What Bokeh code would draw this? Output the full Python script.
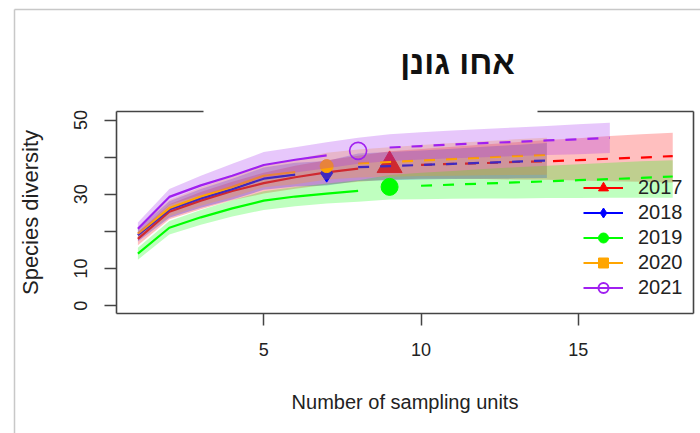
from bokeh.plotting import figure
from bokeh.models import Range1d, Legend, LegendItem, FixedTicker
from bokeh.core.properties import value
from bokeh.embed import file_html
from bokeh.resources import INLINE

# ---------------- data ----------------
years = ["2017", "2018", "2019", "2020", "2021"]
colors = ["#FF0000", "#0000FF", "#00FF00", "#FFA500", "#A020F0"]
ref_size = [9, 7, 9, 7, 8]          # observed number of sampling units

div_2017 = [18.0, 25.3, 28.3, 30.9, 33.0, 34.6, 35.9, 36.9, 37.8, 37.9, 38.2, 38.4, 38.7, 38.9, 39.2, 39.6, 39.9, 40.3]
lo_2017 = [16.3, 23.3, 26.0, 28.4, 30.2, 31.5, 32.6, 33.4, 34.0, 34.2, 34.2, 34.1, 34.0, 33.9, 33.7, 33.5, 33.4, 33.2]
hi_2017 = [19.7, 27.3, 30.6, 33.4, 35.8, 37.7, 39.2, 40.4, 41.6, 42.2, 42.8, 43.4, 44.0, 44.6, 45.1, 45.7, 46.2, 46.6]

div_2018 = [19.0, 25.9, 28.9, 31.4, 34.2, 35.3, 35.7, 37.3, 37.6, 37.9, 38.2, 38.5, 38.8, 39.1]
lo_2018 = [17.3, 23.7, 26.4, 28.6, 31.2, 32.1, 32.4, 33.6, 33.8, 34.0, 34.1, 34.2, 34.3, 34.4]
hi_2018 = [20.7, 28.1, 31.4, 34.2, 37.2, 38.5, 39.0, 41.0, 41.4, 41.8, 42.3, 42.8, 43.3, 43.8]

div_2019 = [14.0, 21.0, 23.8, 26.2, 28.3, 29.4, 30.2, 30.9, 32.0, 32.3, 32.6, 32.9, 33.2, 33.5, 33.8, 34.1, 34.4, 34.8]
lo_2019 = [12.4, 19.2, 21.8, 24.0, 25.8, 26.8, 27.5, 28.0, 28.6, 28.7, 28.8, 28.9, 28.9, 29.0, 29.0, 29.1, 29.1, 29.1]
hi_2019 = [15.6, 22.8, 25.8, 28.4, 30.8, 32.0, 32.9, 33.8, 35.2, 35.8, 36.3, 36.8, 37.3, 37.7, 38.1, 38.5, 38.9, 39.2]

div_2020 = [19.4, 26.3, 29.4, 32.0, 35.0, 36.0, 37.6, 38.3, 38.7, 39.1, 39.5, 39.9, 40.3, 40.6]
lo_2020 = [17.7, 24.1, 26.9, 29.2, 31.9, 32.7, 34.0, 34.5, 34.7, 34.9, 35.0, 35.1, 35.2, 35.3]
hi_2020 = [21.1, 28.5, 31.9, 34.8, 38.1, 39.3, 41.2, 42.1, 42.7, 43.3, 43.8, 44.3, 44.8, 45.2]

div_2021 = [20.7, 29.3, 32.4, 35.0, 37.9, 39.3, 40.5, 41.7, 42.6, 43.0, 43.4, 43.8, 44.1, 44.5, 44.8, 45.2]
lo_2021 = [19.0, 27.2, 29.8, 31.8, 34.4, 35.9, 37.0, 38.2, 39.0, 39.4, 39.7, 40.0, 40.3, 40.6, 40.8, 41.1]
hi_2021 = [22.4, 31.4, 35.0, 38.2, 41.4, 42.7, 44.0, 45.2, 46.2, 46.7, 47.2, 47.6, 48.0, 48.4, 48.9, 49.3]

x_ticks = [5, 10, 15]
y_ticks = [0, 10, 20, 30, 40, 50]
y_hidden_labels = [20, 40]
title_text = "אחו גונן"
x_label = "Number of sampling units"
y_label = "Species diversity"

plot_markers = ["triangle", "diamond", "circle", "circle", "circle"]
plot_sizes = [25, 18, 17, 13, 17]
plot_filled = [True, True, True, True, False]
legend_markers = ["triangle", "diamond", "circle", "square", "circle"]
legend_filled = [True, True, True, True, False]

series = [
    (div_2017, lo_2017, hi_2017),
    (div_2018, lo_2018, hi_2018),
    (div_2019, lo_2019, hi_2019),
    (div_2020, lo_2020, hi_2020),
    (div_2021, lo_2021, hi_2021),
]

# ---------------- layout ----------------
W, H = 700, 433
FL, FR, FT, FB = 116, 693, 111, 313      # frame edges in page pixels
X0, X1 = 0.32, 18.66
Y0, Y1 = -2.1, 52.3
FONT = "Liberation Sans"
TXT = "#222222"
AX = "#444444"


def px2x(px):
    return X0 + (px - FL) / (FR - FL) * (X1 - X0)


def py2y(py):
    return Y0 + (FB - py) / (FB - FT) * (Y1 - Y0)


p = figure(width=W, height=H, output_backend="svg", toolbar_location=None,
           x_range=Range1d(X0, X1), y_range=Range1d(Y0, Y1),
           min_border_left=FL, min_border_right=W - FR,
           min_border_top=FT, min_border_bottom=H - FB)
p.grid.visible = False
p.outline_line_color = None
p.background_fill_color = "white"
p.border_fill_color = "white"

items = []
for i, (yr, col, n) in enumerate(zip(years, colors, ref_size)):
    d, lo, hi = series[i]
    xs = list(range(1, len(d) + 1))
    xi = xs[: n - 1]
    yi = d[: n - 1]
    xe = xs[n:]
    ye = d[n:]
    r_line = p.line(xi, yi, line_color=col, line_width=2.2)
    p.line(xe, ye, line_color=col, line_width=2.2, line_dash="11 11")
    if plot_filled[i]:
        p.scatter([xs[n - 1]], [d[n - 1]], marker=plot_markers[i], size=plot_sizes[i],
                  fill_color=col, line_color=col)
    else:
        p.scatter([xs[n - 1]], [d[n - 1]], marker=plot_markers[i], size=plot_sizes[i],
                  fill_color=None, line_color=col, line_width=1.6)
    p.varea(x=xs, y1=lo, y2=hi, fill_color=col, fill_alpha=0.25)
    # legend-only marker (zero size in the plot, drawn by the legend)
    if legend_filled[i]:
        r_leg = p.scatter([xs[n - 1]], [d[n - 1]], marker=legend_markers[i], size=0,
                          fill_color=col, line_color=col)
    else:
        r_leg = p.scatter([xs[n - 1]], [d[n - 1]], marker=legend_markers[i], size=0,
                          fill_color=None, line_color=col, line_width=2)
    items.append(LegendItem(label=yr, renderers=[r_line, r_leg]))

legend = Legend(items=items, location=(467, 13), orientation="vertical",
                glyph_width=40, glyph_height=25, spacing=0, padding=0, margin=0,
                label_standoff=15, label_text_font_size="20px", label_text_font=FONT,
                label_text_color=TXT, border_line_color=None, background_fill_alpha=0)
p.add_layout(legend)

# box (top border interrupted by the title area)
gx0, gx1 = px2x(203), px2x(537)
p.segment(x0=[X0, X0, X1, X0, gx1], y0=[Y0, Y0, Y0, Y1, Y1],
          x1=[X0, X1, X1, gx0, X1], y1=[Y1, Y0, Y1, Y1, Y1],
          line_color=AX, line_width=1.6, level="overlay")
# light page frame (top and left)
p.segment(x0=[px2x(14), px2x(14)], y0=[py2y(9), py2y(9)],
          x1=[px2x(700), px2x(14)], y1=[py2y(9), py2y(433)],
          line_color="#c8c8c8", line_width=1.5, level="overlay")

# title (drawn as unclipped text)
p.text(x=[px2x(457)], y=[py2y(62)], text=[title_text], text_align="center",
       text_baseline="middle", text_font=value(FONT), text_font_style="bold",
       text_font_size="33px", text_color="#111111", level="overlay")

# axes
xa = p.xaxis[0]
xa.ticker = FixedTicker(ticks=x_ticks)
ya = p.yaxis[0]
ya.ticker = FixedTicker(ticks=y_ticks)
ya.major_label_overrides = {v: "" for v in y_hidden_labels}
ya.major_label_orientation = "parallel"
for ax in (xa, ya):
    ax.axis_line_color = None
    ax.major_tick_line_color = AX
    ax.major_tick_line_width = 1.5
    ax.major_tick_out = 12
    ax.major_tick_in = 0
    ax.minor_tick_line_color = None
    ax.major_label_text_font = FONT
    ax.major_label_text_font_size = "18px"
    ax.major_label_text_color = TXT
    ax.axis_label_text_font = FONT
    ax.axis_label_text_font_style = "normal"
    ax.axis_label_text_color = TXT
xa.major_label_standoff = 17
xa.axis_label = x_label
xa.axis_label_text_font_size = "20px"
xa.axis_label_standoff = 32
ya.major_label_standoff = 17
ya.axis_label = y_label
ya.axis_label_text_font_size = "22px"
ya.axis_label_standoff = 29

open("out.html", "w").write(file_html(p, INLINE))
